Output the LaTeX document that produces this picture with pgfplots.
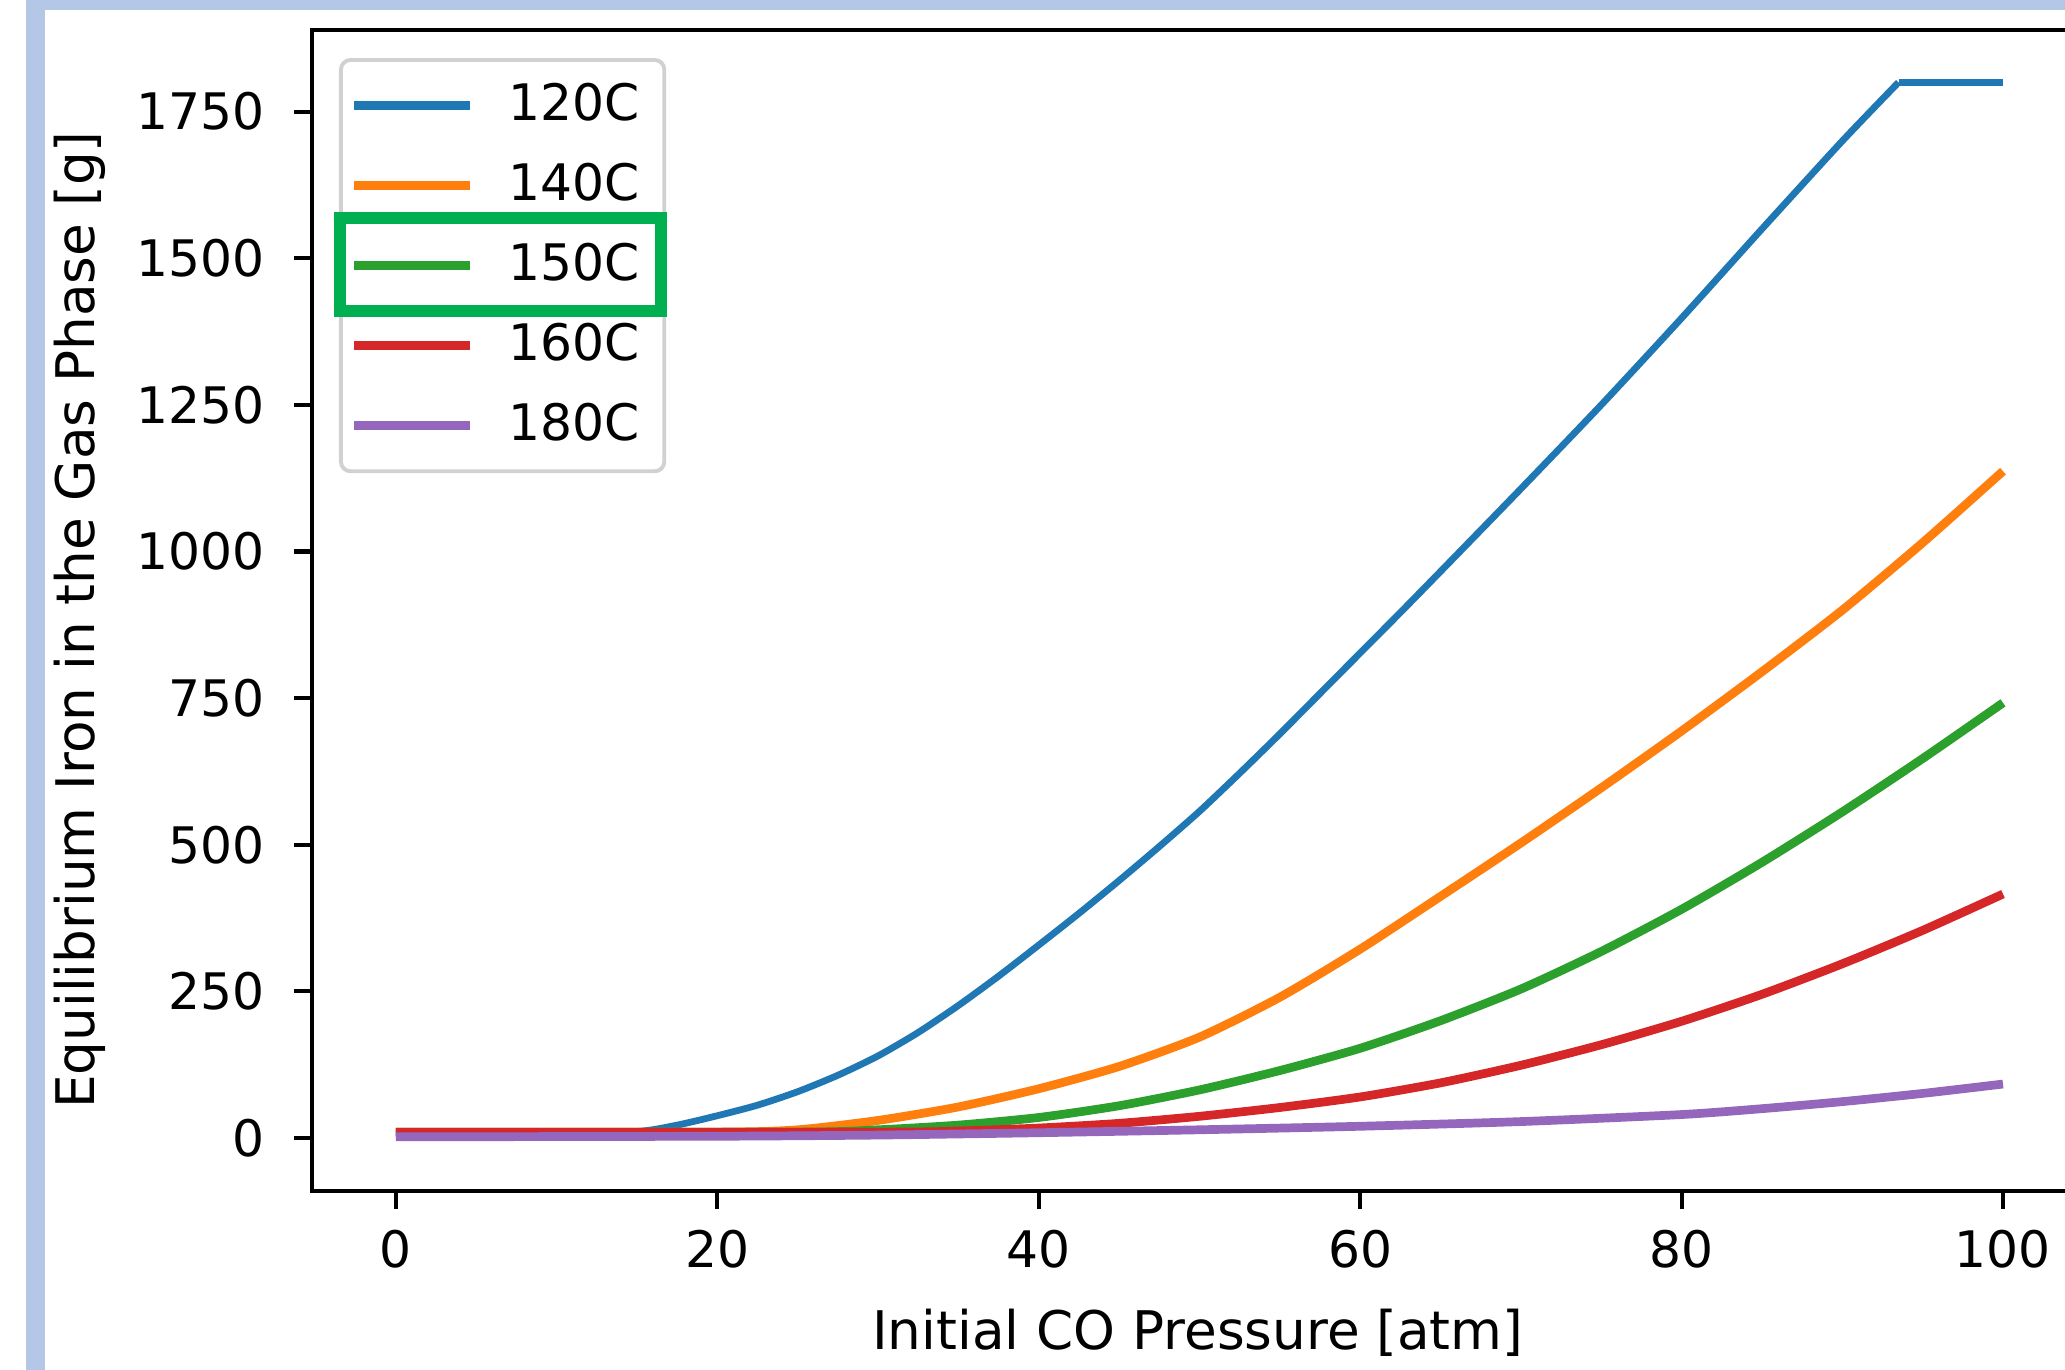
\documentclass[border=0pt]{standalone}
\usepackage{fontspec}
\setmainfont{DejaVu Sans}
\usepackage{pgfplots}
\pgfplotsset{compat=1.18}

\definecolor{c1}{HTML}{1F77B4}
\definecolor{c2}{HTML}{FF7F0E}
\definecolor{c3}{HTML}{2CA02C}
\definecolor{c4}{HTML}{D62728}
\definecolor{c5}{HTML}{9467BD}
\definecolor{frameblue}{RGB}{180,199,231}
\definecolor{hlgreen}{RGB}{0,176,80}

\newcommand{\tickfont}{\fontsize{10.4}{12.5}\selectfont}
\newcommand{\labfont}{\fontsize{11}{13}\selectfont}
\newcommand{\pad}{\rule{0.115cm}{0pt}}

\begin{document}
\begin{tikzpicture}
\useasboundingbox (0,0) rectangle (15cm,9.9515cm);
\clip (0,0) rectangle (15cm,9.9515cm);

% screenshot frame
\begin{scope}[x=0.0072639cm,y=0.0072639cm]
  \fill[frameblue] (26,0) rectangle (45,1370);
  \fill[frameblue] (26,1360) rectangle (2065,1370);
\end{scope}

\begin{axis}[
    at={(2.2693cm,1.3017cm)}, anchor=south west,
    scale only axis, width=12.864cm, height=8.435cm,
    xmin=-5.2, xmax=105, ymin=-90, ymax=1890,
    xtick={0,20,...,100},
    ytick={0,250,...,1750},
    yticklabels={0,250,500,750,1000,1250,1500,1750},
    tick pos=left, tick align=outside,
    major tick length=0.131cm,
    tick style={line width=0.85pt, black},
    axis line style={line width=0.85pt},
    /pgf/number format/assume math mode=true,
    ticklabel style={font=\tickfont},
    xticklabel style={anchor=north, inner ysep=0pt, yshift=-0.15cm},
    yticklabel style={anchor=east, inner xsep=0pt, xshift=-0.21cm},
    label style={font=\labfont},
    xlabel={Initial CO Pressure [atm]},
    ylabel={Equilibrium Iron in the Gas Phase [g]},
    xlabel style={at={(axis description cs:0.5,-0.1371)}, anchor=base},
    ylabel style={at={(axis description cs:-0.1315,0.4914)}, anchor=center},
    legend cell align=left,
    legend style={
        at={(rel axis cs:0.015,0.9755)}, anchor=north west,
        draw=black!18, line width=0.8pt, rounded corners=2pt, fill=white,
        inner xsep=0.065cm, inner ysep=0.17cm,
        row sep=0.257cm, column sep=0.245cm,
        nodes={inner sep=0pt},
        font=\tickfont},
    legend image code/.code={\draw[#1, line width=1.8pt] (0cm,0cm) -- (0.843cm,0cm);},
]

\addplot[c1, line width=1.4pt, smooth, tension=0.4] coordinates {
(0,10) (10,10) (15,11) (17.5,22) (20,38) (22.5,56) (25,79) (27.5,107)
(30,140) (32.5,180) (35,226) (37.5,276) (40,329) (42.5,383) (45,439)
(47.5,497) (50,557) (52.5,622) (55,689) (57.5,758) (60,827) (62.5,896)
(65,966) (70,1107) (75,1250) (80,1398) (85,1550) (90,1700) (93.5,1800)};
\addlegendentry{120C\pad}
\addplot[c1, line width=1.4pt, forget plot] coordinates {(93.5,1800) (100,1800)};

\addplot[c2, line width=1.8pt, smooth, tension=0.4] coordinates {
(0,10) (20,10) (25,14) (30,30) (35,53) (40,84) (45,122) (50,172)
(55,240) (60,322) (65,412) (70,503) (75,597) (80,694) (85,795)
(90,900) (95,1015) (100,1137)};
\addlegendentry{140C\pad}

\addplot[c3, line width=1.8pt, smooth, tension=0.4] coordinates {
(0,10) (25,10) (30,14) (35,22) (40,35) (45,55) (50,82) (55,115)
(60,153) (65,200) (70,254) (75,318) (80,390) (85,470) (90,556)
(95,647) (100,742)};
\addlegendentry{150C\pad}

\addplot[c4, line width=1.8pt, smooth, tension=0.4] coordinates {
(0,10) (30,10) (35,12) (40,17) (45,25) (50,37) (55,52) (60,70)
(65,94) (70,124) (75,159) (80,199) (85,245) (90,297) (95,354) (100,416)};
\addlegendentry{160C\pad}

\addplot[c5, line width=1.8pt, smooth, tension=0.4] coordinates {
(0,2) (20,3) (30,5) (40,9) (50,14) (60,20) (70,28) (80,40) (85,50)
(90,62) (95,76) (100,92)};
\addlegendentry{180C\pad}

\end{axis}

% highlight box round the 150C entry
\begin{scope}[x=0.0072639cm,y=0.0072639cm]
  \draw[hlgreen, line width=0.0872cm] (340,1152) rectangle (661,1059);
\end{scope}
\end{tikzpicture}
\end{document}
